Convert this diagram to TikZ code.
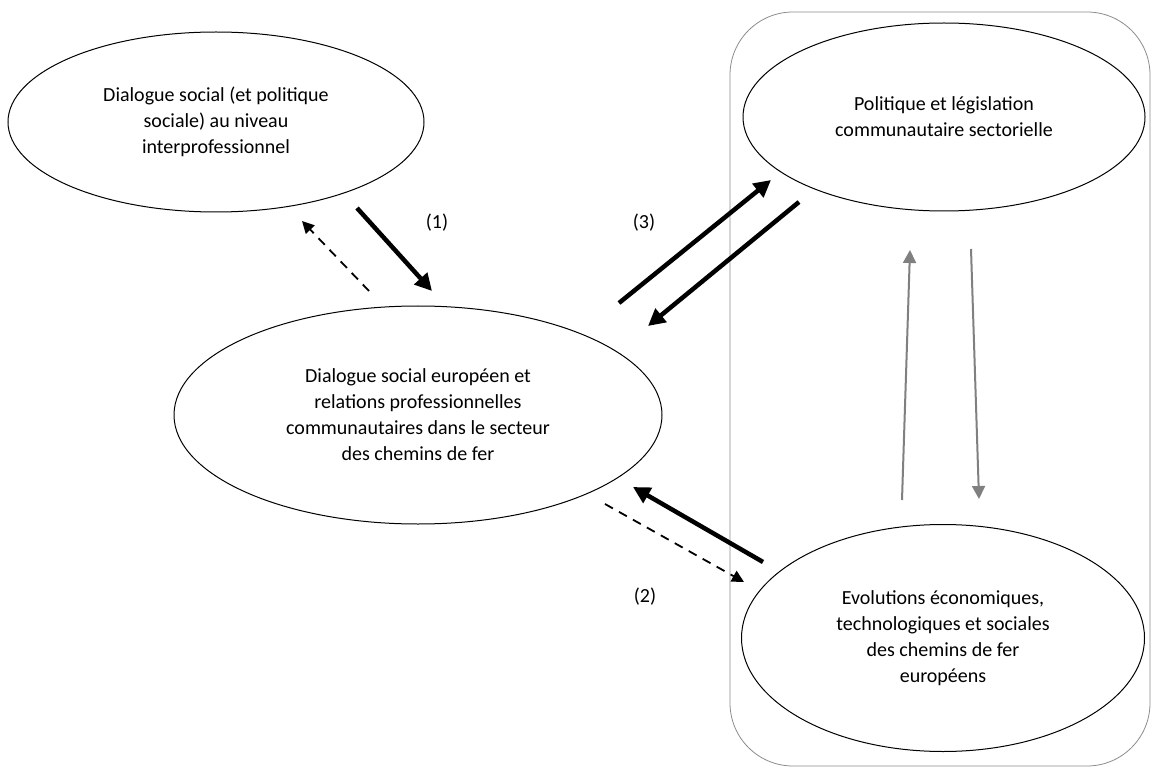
\documentclass[tikz,border=0pt]{standalone}
\usepackage{fontspec}
\setmainfont{Carlito}
\usetikzlibrary{shapes.geometric,arrows.meta}
\definecolor{rectgray}{HTML}{8C8C8C}
\definecolor{arrgray}{HTML}{808080}
\tikzset{
  oval/.style={ellipse,draw=black,line width=1pt,inner sep=0pt,align=center,
    font=\fontsize{20pt}{26pt}\selectfont},
  lbl/.style={font=\fontsize{20pt}{26pt}\selectfont,inner sep=0pt},
  thickarr/.style={line width=4.5pt,-{Triangle[length=17pt,width=17pt]}},
  dasharr/.style={line width=1.8pt,dash pattern=on 9pt off 7pt,-{Triangle[length=12pt,width=12pt]}},
  grayarr/.style={draw=arrgray,line width=2pt,-{Triangle[length=13pt,width=13pt]},arrgray},
}
\begin{document}
\begin{tikzpicture}[x=1pt,y=-1pt]
\useasboundingbox (0,0) rectangle (1151,767);
% group frame
\draw[rectgray,line width=0.8pt,rounded corners=63pt] (730,12) rectangle (1150,766);
% ellipses
\node[oval,minimum width=416pt,minimum height=180pt] (e1) at (216,122)
  {Dialogue social (et politique\\sociale) au niveau\\interprofessionnel};
\node[oval,minimum width=488pt,minimum height=218pt] (e2) at (418,415)
  {Dialogue social europ\'een et\\relations professionnelles\\communautaires dans le secteur\\des chemins de fer};
\node[oval,minimum width=402pt,minimum height=188pt] (e3) at (944,117)
  {Politique et l\'egislation\\communautaire sectorielle};
\node[oval,minimum width=403pt,minimum height=227pt] (e4) at (943,638)
  {Evolutions \'economiques,\\technologiques et sociales\\des chemins de fer\\europ\'eens};
% connector end points
\coordinate (a1s) at (357,208); \coordinate (a1t) at (432,291);
\coordinate (d1s) at (369,291); \coordinate (d1t) at (302,221);
\coordinate (a3s) at (619,303); \coordinate (a3t) at (771,180);
\coordinate (b3s) at (799,202); \coordinate (b3t) at (648,326);
\coordinate (d2s) at (605,504); \coordinate (d2t) at (744,582);
\coordinate (a2s) at (763,562); \coordinate (a2t) at (633,487);
\coordinate (gus) at (902,500); \coordinate (gut) at (910,250);
\coordinate (gds) at (971,249); \coordinate (gdt) at (979,499);
% connectors
\draw[thickarr] (a1s) -- (a1t);
\draw[dasharr] (d1s) -- (d1t);
\draw[thickarr] (a3s) -- (a3t);
\draw[thickarr] (b3s) -- (b3t);
\draw[dasharr] (d2s) -- (d2t);
\draw[thickarr] (a2s) -- (a2t);
\draw[grayarr] (gus) -- (gut);
\draw[grayarr] (gds) -- (gdt);
% labels
\node[lbl] (l1) at (437,223) {(1)};
\node[lbl] (l3) at (644,223) {(3)};
\node[lbl] (l2) at (645,597) {(2)};
\end{tikzpicture}
\end{document}
